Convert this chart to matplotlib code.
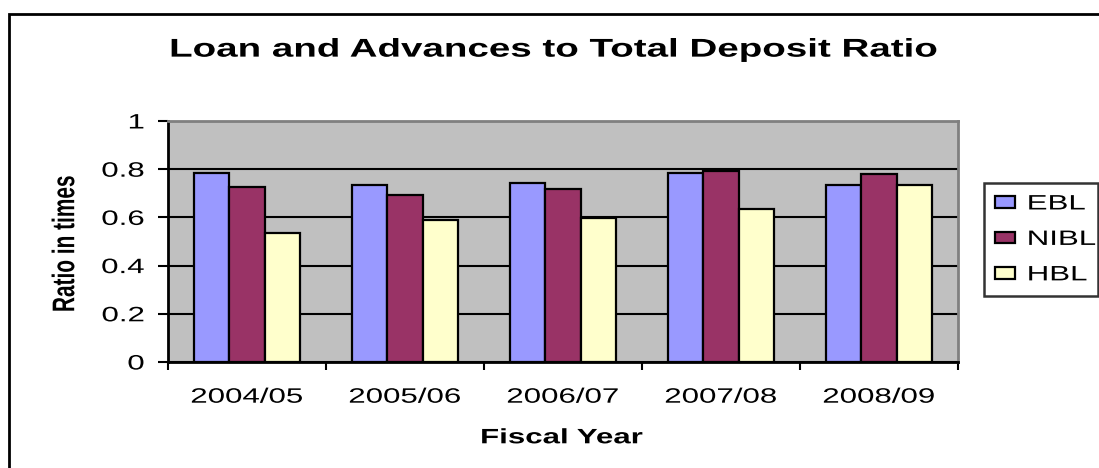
import matplotlib.pyplot as plt
import numpy as np
from matplotlib import patheffects
from matplotlib.patches import Rectangle
from matplotlib.transforms import Affine2D

plt.rcParams['font.family'] = ['Liberation Sans', 'DejaVu Sans']

# Loan and advances / total deposit, by fiscal year
years = ['2004/05', '2005/06', '2006/07', '2007/08', '2008/09']
ebl = [0.786, 0.733, 0.742, 0.785, 0.733]
nibl = [0.728, 0.692, 0.719, 0.792, 0.778]
hbl = [0.536, 0.589, 0.596, 0.633, 0.735]

banks = ['EBL', 'NIBL', 'HBL']
colors = ['#9999FF', '#993366', '#FFFFCC']


class Widen(patheffects.AbstractPathEffect):
    """Draw text wider on screen, keeping one edge (or the middle) fixed."""

    def __init__(self, sx=1.5, anchor='center'):
        super().__init__()
        self.sx = sx
        self.anchor = anchor

    def draw_path(self, renderer, gc, tpath, affine, rgbFace=None):
        ext = affine.transform_path(tpath).get_extents()
        if self.anchor == 'left':
            x0 = ext.x0
        elif self.anchor == 'right':
            x0 = ext.x1
        else:
            x0 = (ext.x0 + ext.x1) / 2
        wide = Affine2D().translate(-x0, 0).scale(self.sx, 1).translate(x0, 0)
        renderer.draw_path(gc, tpath, affine + wide, rgbFace)


SX = 1.5

fig = plt.figure(figsize=(10.99, 4.68), dpi=100)
ax = fig.add_axes([0.1529, 0.2265, 0.7188, 0.515])

x = np.arange(len(years))
w = 0.225
for i, (vals, c, name) in enumerate(zip([ebl, nibl, hbl], colors, banks)):
    ax.bar(x + (i - 1) * w, vals, w, color=c, edgecolor='black',
           linewidth=1.6, label=name, zorder=3)

ax.set_facecolor('#C0C0C0')
ax.set_xlim(-0.5, len(years) - 0.5)
ax.set_ylim(0, 1)

# horizontal gridlines
ax.set_yticks(np.arange(0, 1.01, 0.2))
ax.set_yticklabels(['0', '0.2', '0.4', '0.6', '0.8', '1'], fontsize=15)
ax.yaxis.grid(True, color='black', linewidth=1.5, zorder=1)
ax.set_axisbelow(True)

# ticks on category edges, labels at the centres
ax.set_xticks(np.arange(-0.5, len(years), 1.0))
ax.set_xticklabels([])
ax.set_xticks(x, minor=True)
ax.set_xticklabels(years, minor=True, fontsize=15)
ax.tick_params(axis='x', which='minor', length=0, pad=18.5)
ax.tick_params(axis='x', which='major', length=6, width=1.5, direction='out')
ax.tick_params(axis='y', length=7, width=1.5, direction='out', pad=10)

for t in ax.get_yticklabels():
    t.set_path_effects([Widen(SX, 'right')])
for t in ax.get_xticklabels(minor=True):
    t.set_path_effects([Widen(SX)])

for side in ['left', 'bottom']:
    ax.spines[side].set_linewidth(2)
    ax.spines[side].set_color('black')
for side in ['top', 'right']:
    ax.spines[side].set_linewidth(2)
    ax.spines[side].set_color('#808080')

title = fig.text(0.5045, 0.879, 'Loan and Advances to Total Deposit Ratio',
                 ha='center', va='baseline', fontsize=18.5, fontweight='bold')
xlab = fig.text(0.5114, 0.0528, 'Fiscal Year', ha='center', va='baseline',
                fontsize=15, fontweight='bold')
ylab = fig.text(0.0591, 0.4797, 'Ratio in times', ha='center', va='center',
                rotation=90, fontsize=15, fontweight='bold')
for t in (title, xlab, ylab):
    t.set_path_effects([Widen(SX)])

leg = fig.legend(loc='upper left', mode='expand',
                 bbox_to_anchor=(984 / 1099, 1 - 295 / 468, 114 / 1099, 112 / 468),
                 fontsize=15, frameon=True, fancybox=False, edgecolor='black',
                 handlelength=0.96, handleheight=0.5, handletextpad=0.58,
                 borderpad=0.55, labelspacing=0.79, borderaxespad=0)
leg.get_frame().set_linewidth(1.8)
for t in leg.get_texts():
    t.set_path_effects([Widen(SX, 'left')])

# chart border
fig.patches.append(Rectangle((9 / 1099, -0.1), 1.2, (468 - 14) / 468 + 0.1,
                             transform=fig.transFigure, fill=False,
                             edgecolor='black', linewidth=2))

fig.savefig('out.png', dpi=100)
